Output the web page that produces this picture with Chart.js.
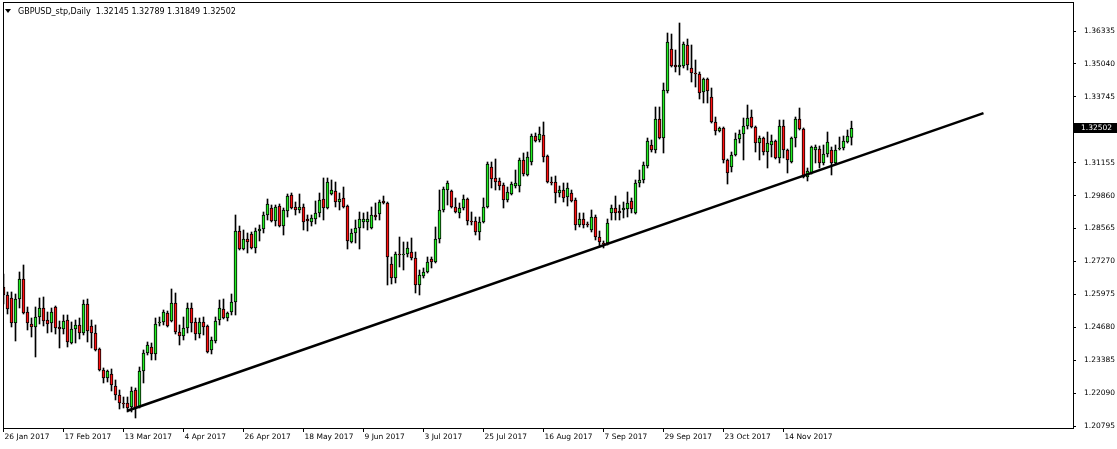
<!DOCTYPE html>
<html>
<head>
<meta charset="utf-8">
<script src="https://cdn.jsdelivr.net/npm/chart.js@4.4.1/dist/chart.umd.min.js"></script>
<style>
  html, body { margin: 0; padding: 0; background: #fff; }
  #wrap { width: 1117px; height: 449px; }
</style>
</head>
<body>
<div id="wrap"><canvas id="chart" width="1117" height="449"></canvas></div>
<script>
// daily bars, oldest first
const symbolTitle = 'GBPUSD_stp,Daily';

const openPrices = [
  1.26264,1.25950,1.25832,1.24848,1.25792,1.26579,1.25281,1.24809,1.24691,1.25084,
  1.25438,1.24966,1.24848,1.25478,1.24691,1.24612,1.24966,1.24061,1.24612,1.24770,
  1.24455,1.25596,1.24730,1.24455,1.23825,1.22999,1.22685,1.22842,1.22370,1.22016,
  1.21701,1.21701,1.21544,1.22212,1.21544,1.22960,1.23668,1.23904,1.23629,1.24848,
  1.24888,1.25242,1.24927,1.25635,1.24494,1.24337,1.24652,1.25438,1.24888,1.24415,
  1.24888,1.24730,1.23786,1.24140,1.24966,1.25399,1.25045,1.25281,1.25674,1.28467,
  1.27759,1.28153,1.28349,1.27799,1.28467,1.28546,1.29097,1.29372,1.28861,1.29451,
  1.28664,1.29254,1.29884,1.29412,1.29294,1.29412,1.28940,1.28822,1.28940,1.29176,
  1.29726,1.29372,1.29923,1.30041,1.29608,1.29766,1.29451,1.28035,1.28389,1.28586,
  1.28822,1.28822,1.28586,1.29097,1.29136,1.29648,1.29569,1.27169,1.26619,1.27563,
  1.27523,1.27563,1.27641,1.27405,1.26343,1.26697,1.26855,1.27366,1.27248,1.28153,
  1.29294,1.30080,1.30041,1.29412,1.29176,1.29372,1.29726,1.28861,1.28861,1.28428,
  1.28822,1.29412,1.30985,1.30553,1.30435,1.30277,1.29687,1.29923,1.30238,1.30238,
  1.31261,1.30671,1.31182,1.32205,1.32047,1.32244,1.31418,1.30395,1.30395,1.29962,
  1.30080,1.29805,1.29962,1.29687,1.28704,1.28940,1.28743,1.28507,1.29018,1.28231,
  1.27995,1.27995,1.29176,1.29372,1.29254,1.29294,1.29333,1.29648,1.29176,1.30356,
  1.30474,1.31025,1.31851,1.31654,1.32874,1.32126,1.33975,1.35627,1.34998,1.34919,
  1.34959,1.35785,1.34880,1.34683,1.34644,1.33936,1.34447,1.33739,1.32756,1.32402,
  1.32520,1.31261,1.30985,1.31457,1.32087,1.32283,1.32598,1.32952,1.32559,1.31929,
  1.32126,1.31575,1.31851,1.32008,1.31339,1.32598,1.31654,1.31182,1.32126,1.32874,
  1.32480,1.30592,1.30749,1.31654,1.31693,1.31143,1.31497,1.31654,1.31143,1.31693,
  1.31733,1.31969,1.32145
];
const highPrices = [
  1.26776,1.26068,1.26068,1.25989,1.26855,1.27130,1.25478,1.25045,1.25478,1.25832,
  1.25871,1.25281,1.25438,1.25517,1.24927,1.25163,1.25163,1.24888,1.24966,1.25045,
  1.25753,1.25792,1.24966,1.24770,1.23865,1.23078,1.22999,1.23039,1.22606,1.22212,
  1.21937,1.21937,1.22330,1.22291,1.23117,1.23786,1.24101,1.24061,1.25045,1.25084,
  1.25360,1.25320,1.26186,1.26028,1.24770,1.25084,1.25635,1.25635,1.25045,1.25045,
  1.25084,1.24770,1.24297,1.25084,1.25753,1.25792,1.25281,1.25989,1.29097,1.28664,
  1.28507,1.28389,1.28428,1.28586,1.28704,1.29215,1.29726,1.29490,1.29490,1.29530,
  1.29372,1.29923,1.29962,1.29608,1.29923,1.29530,1.29097,1.29097,1.29648,1.29962,
  1.30553,1.30553,1.30474,1.30395,1.29962,1.30198,1.29490,1.28546,1.28900,1.29215,
  1.29176,1.29215,1.29412,1.29569,1.29687,1.29844,1.29608,1.27445,1.27641,1.28231,
  1.28035,1.28035,1.28192,1.27641,1.26933,1.27012,1.27445,1.27445,1.28625,1.30080,
  1.30198,1.30435,1.30080,1.29766,1.29569,1.29884,1.29766,1.29215,1.29018,1.29018,
  1.29766,1.31182,1.31182,1.31300,1.30553,1.30356,1.30198,1.30395,1.30867,1.31339,
  1.31536,1.31575,1.32283,1.32323,1.32559,1.32756,1.31457,1.30592,1.30631,1.30238,
  1.30356,1.30356,1.30080,1.29766,1.29176,1.29176,1.28822,1.29294,1.29097,1.28467,
  1.28074,1.28940,1.29490,1.29844,1.29490,1.29608,1.30002,1.29766,1.30474,1.30867,
  1.31182,1.32126,1.32047,1.33346,1.33346,1.34290,1.36257,1.36217,1.35588,1.36650,
  1.35903,1.36021,1.35785,1.35195,1.34723,1.34487,1.34487,1.34093,1.32952,1.32559,
  1.32559,1.31300,1.31575,1.32323,1.32441,1.32913,1.33424,1.33228,1.32598,1.32205,
  1.32165,1.32362,1.32244,1.32047,1.32834,1.32834,1.31693,1.32165,1.32952,1.33306,
  1.32520,1.30946,1.31811,1.31851,1.31811,1.31851,1.32362,1.31772,1.31851,1.32165,
  1.32205,1.32441,1.32789
];
const lowPrices = [
  1.25596,1.25202,1.24691,1.24140,1.25438,1.25202,1.24573,1.24297,1.23511,1.24809,
  1.24730,1.24455,1.24494,1.24415,1.23865,1.24415,1.23904,1.24022,1.24061,1.24219,
  1.24376,1.24101,1.23865,1.23747,1.22960,1.22488,1.22527,1.22173,1.21819,1.21465,
  1.21504,1.21347,1.21347,1.21111,1.21504,1.22488,1.23589,1.23393,1.23393,1.24730,
  1.24770,1.24691,1.24888,1.24415,1.23983,1.24179,1.24455,1.24494,1.24179,1.24258,
  1.24376,1.23668,1.23629,1.24061,1.24770,1.25006,1.24927,1.25163,1.25163,1.27720,
  1.27720,1.27602,1.27759,1.27602,1.28074,1.28389,1.28900,1.28822,1.28664,1.28625,
  1.28310,1.29018,1.29333,1.29097,1.29176,1.28507,1.28467,1.28664,1.28743,1.29018,
  1.28900,1.29333,1.29884,1.29412,1.29294,1.29372,1.27759,1.27995,1.27995,1.27759,
  1.28586,1.28507,1.28546,1.28900,1.28900,1.29530,1.26343,1.26382,1.26422,1.27051,
  1.26933,1.27445,1.27327,1.26028,1.25950,1.26619,1.26815,1.27012,1.27209,1.27995,
  1.29215,1.29490,1.29372,1.29176,1.28979,1.29294,1.28704,1.28704,1.28310,1.28113,
  1.28782,1.29372,1.30159,1.30080,1.30080,1.29372,1.29608,1.29884,1.30159,1.30002,
  1.30631,1.30631,1.31064,1.31969,1.31969,1.31182,1.30356,1.30277,1.29569,1.29805,
  1.29608,1.29451,1.29608,1.28507,1.28625,1.28586,1.28625,1.28428,1.28113,1.27838,
  1.27799,1.27917,1.28900,1.28900,1.28900,1.28979,1.29018,1.29176,1.29136,1.30198,
  1.30356,1.30946,1.31575,1.31536,1.32087,1.31536,1.33896,1.34919,1.34723,1.34605,
  1.34880,1.34801,1.34329,1.34132,1.33660,1.33503,1.33503,1.32716,1.32244,1.32362,
  1.31143,1.30316,1.30789,1.31418,1.31929,1.31261,1.32480,1.32520,1.31575,1.31261,
  1.31457,1.30946,1.31379,1.31300,1.31143,1.31339,1.30749,1.31143,1.31772,1.32441,
  1.30553,1.30435,1.30710,1.31143,1.30946,1.31064,1.31379,1.30671,1.31103,1.31654,
  1.31654,1.31929,1.31849
];
const closePrices = [
  1.25950,1.25399,1.24848,1.25792,1.26579,1.25242,1.24848,1.24691,1.25084,1.25438,
  1.24927,1.24809,1.25281,1.24652,1.24612,1.24927,1.24101,1.24612,1.24770,1.24455,
  1.25596,1.24534,1.24455,1.23786,1.22999,1.22685,1.22960,1.22409,1.22016,1.21701,
  1.21662,1.21504,1.22173,1.21504,1.22960,1.23668,1.23983,1.23629,1.24809,1.24888,
  1.25281,1.24730,1.25635,1.24494,1.24337,1.24652,1.25438,1.24848,1.24415,1.24888,
  1.24691,1.23707,1.24179,1.24927,1.25438,1.25045,1.25242,1.25674,1.28467,1.27759,
  1.28153,1.28035,1.27799,1.28467,1.28546,1.29097,1.29530,1.28861,1.29412,1.28664,
  1.29294,1.29844,1.29372,1.29294,1.29412,1.28822,1.28861,1.28979,1.29176,1.29687,
  1.29372,1.30395,1.30080,1.29608,1.29726,1.29412,1.28074,1.28389,1.28586,1.28940,
  1.28940,1.28940,1.29097,1.29018,1.29608,1.29569,1.27445,1.26619,1.27563,1.27523,
  1.27563,1.27799,1.27405,1.26343,1.26737,1.26855,1.27248,1.27248,1.28153,1.29294,
  1.30120,1.30356,1.29412,1.29215,1.29372,1.29726,1.28861,1.28822,1.28428,1.28822,
  1.29412,1.31103,1.30513,1.30395,1.30238,1.29687,1.30002,1.30316,1.30356,1.31261,
  1.30710,1.31379,1.32205,1.32008,1.32283,1.31379,1.30395,1.30356,1.29962,1.30080,
  1.29766,1.30159,1.29648,1.28704,1.28940,1.28704,1.28704,1.29018,1.28231,1.28035,
  1.27956,1.28782,1.29372,1.29176,1.29176,1.29372,1.29569,1.29333,1.30356,1.30474,
  1.31064,1.32008,1.31654,1.32874,1.32126,1.34014,1.35903,1.34959,1.34919,1.34998,
  1.35824,1.34998,1.34683,1.34644,1.33896,1.34447,1.33975,1.32756,1.32402,1.32520,
  1.31261,1.30749,1.31457,1.32087,1.32283,1.32598,1.32913,1.32559,1.31929,1.32126,
  1.31575,1.31929,1.32008,1.31339,1.32598,1.31654,1.31261,1.32126,1.32874,1.32480,
  1.30592,1.30828,1.31772,1.31772,1.31143,1.31497,1.31969,1.31143,1.31654,1.31733,
  1.32008,1.32205,1.32502
];

// date under every 15th bar
const dateLabels = ['26 Jan 2017','17 Feb 2017','13 Mar 2017','4 Apr 2017','26 Apr 2017',
  '18 May 2017','9 Jun 2017','3 Jul 2017','25 Jul 2017','16 Aug 2017','7 Sep 2017',
  '29 Sep 2017','23 Oct 2017','14 Nov 2017'];
const labelStep = 15;

const priceTicks = [1.20795,1.22090,1.23385,1.24680,1.25975,1.27270,1.28565,
  1.29860,1.31155,1.32450,1.33745,1.35040,1.36335];

// trend line: [bar index, price] at both ends
const trendStart = [31, 1.21398];
const trendEnd = [245, 1.33104];

const bullColor = '#22ee22';
const bearColor = '#ff1010';
const lastIdx = closePrices.length - 1;

const bodies = openPrices.map((o, i) => ({ x: i, y: [o, closePrices[i]] }));
const wicks = lowPrices.map((l, i) => ({ x: i, y: [l, highPrices[i]] }));
const bodyColors = openPrices.map((o, i) => closePrices[i] >= o ? bullColor : bearColor);

const fontAxis = { family: 'DejaVu Sans', size: 7.5 };

// frame, header and last price tag
const mt4Decor = {
  id: 'mt4Decor',
  afterDraw(chart) {
    const ctx = chart.ctx;
    const a = chart.chartArea;
    ctx.save();
    ctx.strokeStyle = '#000';
    ctx.lineWidth = 1;
    ctx.strokeRect(a.left - 0.5, a.top - 0.5, a.right - a.left + 1, a.bottom - a.top + 1);

    ctx.fillStyle = '#000';
    ctx.beginPath();
    ctx.moveTo(5, 9);
    ctx.lineTo(11, 9);
    ctx.lineTo(8, 13);
    ctx.closePath();
    ctx.fill();
    ctx.font = '8px "DejaVu Sans"';
    ctx.textBaseline = 'alphabetic';
    const q = [openPrices[lastIdx], highPrices[lastIdx], lowPrices[lastIdx], closePrices[lastIdx]];
    ctx.fillText(symbolTitle + '  ' + q.map(v => v.toFixed(5)).join(' '), 18, 14);

    const y = Math.round(chart.scales.y.getPixelForValue(closePrices[lastIdx]));
    ctx.fillRect(a.right + 1, y - 5, chart.width - a.right - 1, 10);
    ctx.fillStyle = '#fff';
    ctx.font = '7.5px "DejaVu Sans"';
    ctx.textBaseline = 'middle';
    ctx.fillText(closePrices[lastIdx].toFixed(5), a.right + 8, y);
    ctx.restore();
  }
};

new Chart(document.getElementById('chart'), {
  type: 'bar',
  data: {
    datasets: [
      {
        type: 'line',
        data: [{ x: trendStart[0], y: trendStart[1] }, { x: trendEnd[0], y: trendEnd[1] }],
        borderColor: '#000',
        borderWidth: 2.6,
        pointRadius: 0,
        fill: false,
        order: 0
      },
      {
        data: bodies,
        backgroundColor: bodyColors,
        borderColor: '#000',
        borderWidth: 1,
        borderSkipped: false,
        barThickness: 3,
        minBarLength: 1,
        grouped: false,
        order: 1
      },
      {
        data: wicks,
        backgroundColor: '#000',
        borderWidth: 0,
        barThickness: 1,
        grouped: false,
        order: 2
      }
    ]
  },
  options: {
    responsive: false,
    animation: false,
    layout: { padding: { left: 4, top: 3, right: 0, bottom: 0 } },
    plugins: { legend: { display: false }, tooltip: { enabled: false } },
    scales: {
      x: {
        type: 'linear',
        offset: false,
        min: 0.125,
        max: 267.375,
        afterBuildTicks: (s) => { s.ticks = dateLabels.map((d, k) => ({ value: k * labelStep })); },
        afterFit: (s) => { s.height = 21; s.paddingLeft = 0; s.paddingRight = 0; },
        grid: { drawOnChartArea: false, drawTicks: true, tickLength: 4, color: '#000', offset: false },
        border: { display: false },
        ticks: {
          autoSkip: false,
          maxRotation: 0,
          align: 'start',
          labelOffset: 1,
          padding: 1,
          color: '#000',
          font: fontAxis,
          callback: (v) => dateLabels[Math.round(v / labelStep)]
        }
      },
      y: {
        position: 'right',
        min: 1.20717,
        max: 1.37437,
        afterBuildTicks: (s) => { s.ticks = priceTicks.map(v => ({ value: v })); },
        afterFit: (s) => { s.width = 44; s.paddingTop = 0; s.paddingBottom = 0; },
        grid: { drawOnChartArea: false, drawTicks: true, tickLength: 3, color: '#000' },
        border: { display: false },
        ticks: {
          padding: 8,
          color: '#000',
          font: fontAxis,
          callback: (v) => Number(v).toFixed(5)
        }
      }
    }
  },
  plugins: [mt4Decor]
});
</script>
</body>
</html>
